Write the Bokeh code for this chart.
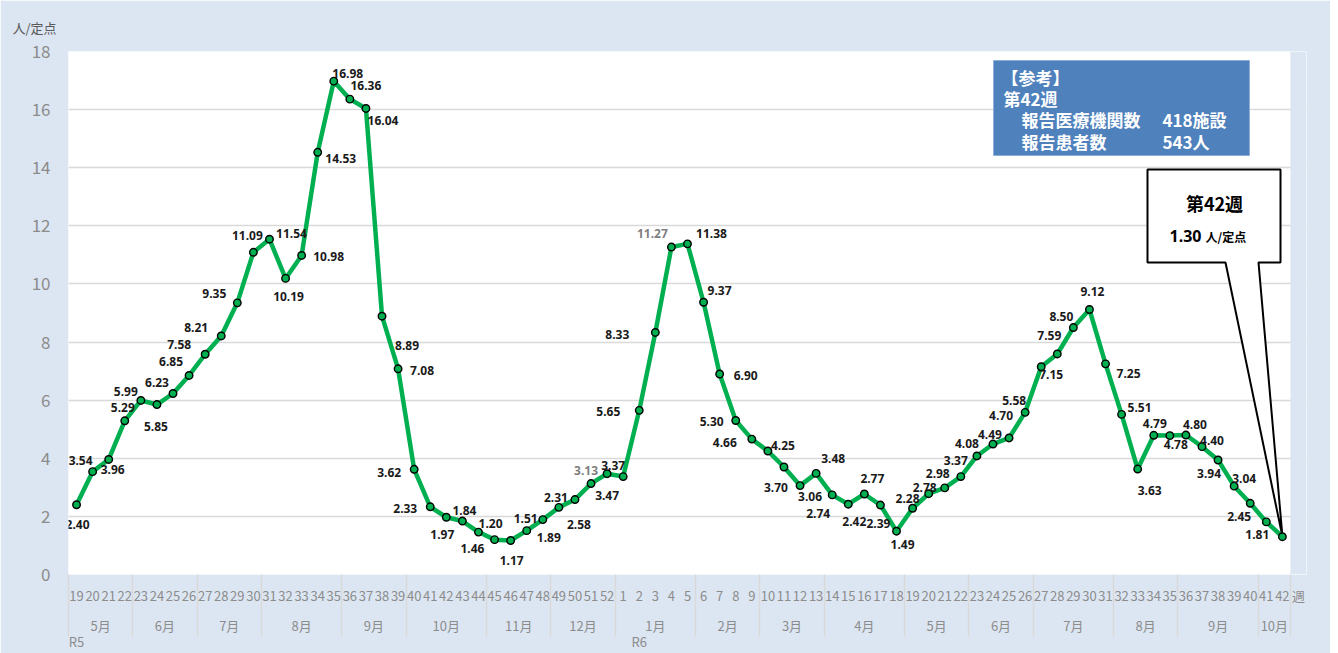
from bokeh.plotting import figure
from bokeh.models import (Range1d, ColumnDataSource, FixedTicker, LinearAxis,
                          Label, BoxAnnotation, PolyAnnotation)
from bokeh.embed import file_html
from bokeh.resources import INLINE
from bokeh.core.properties import value

# ---------------- data ----------------
years = ["R5", "R6"]
months_r5 = ["5月", "6月", "7月", "8月", "9月", "10月", "11月", "12月"]
weeks_by_month_r5 = [
    ["19", "20", "21", "22"], ["23", "24", "25", "26"], ["27", "28", "29", "30"],
    ["31", "32", "33", "34", "35"], ["36", "37", "38", "39"], ["40", "41", "42", "43", "44"],
    ["45", "46", "47", "48"], ["49", "50", "51", "52"],
]
months_r6 = ["1月", "2月", "3月", "4月", "5月", "6月", "7月", "8月", "9月", "10月"]
weeks_by_month_r6 = [
    ["1", "2", "3", "4", "5"], ["6", "7", "8", "9"], ["10", "11", "12", "13"],
    ["14", "15", "16", "17", "18"], ["19", "20", "21", "22"], ["23", "24", "25", "26"],
    ["27", "28", "29", "30", "31"], ["32", "33", "34", "35"], ["36", "37", "38", "39", "40"],
    ["41", "42"],
]
values_r5 = [2.40, 3.54, 3.96, 5.29, 5.99, 5.85, 6.23, 6.85, 7.58, 8.21,
             9.35, 11.09, 11.54, 10.19, 10.98, 14.53, 16.98, 16.36, 16.04, 8.89,
             7.08, 3.62, 2.33, 1.97, 1.84, 1.46, 1.20, 1.17, 1.51, 1.89,
             2.31, 2.58, 3.13, 3.47]
values_r6 = [3.37, 5.65, 8.33, 11.27, 11.38, 9.37, 6.90, 5.30, 4.66, 4.25,
             3.70, 3.06, 3.48, 2.74, 2.42, 2.77, 2.39, 1.49, 2.28, 2.78,
             2.98, 3.37, 4.08, 4.49, 4.70, 5.58, 7.15, 7.59, 8.50, 9.12,
             7.25, 5.51, 3.63, 4.79, 4.78, 4.80, 4.40, 3.94, 3.04, 2.45,
             1.81, 1.30]
y_ticks = [0, 2, 4, 6, 8, 10, 12, 14, 16, 18]
y_unit = "人/定点"
x_unit = "週"
ref_title = "【参考】"
ref_week = "第42週"
ref_rows = [("報告医療機関数", "418施設"), ("報告患者数", "543人")]
call_week = "第42週"
call_value = "1.30"

# ---------------- layout / style helpers (not data) ----------------
lab_dx = [1, -12, 4, -2, -15, -1, -16, -18, -26, -25, -23, -6, 22, 3, 27, 23, 14, 16, 17, 25,
          24, -25, -25, -4, 2, -6, -4, 1, -1, 6, -3, 4, -5, 0, -10, -31, -38, -19, 24, 16,
          26, -24, -27, 15, -8, 10, 17, -14, 6, 8, -2, 6, -5, -4, -7, -5, -10, -3, -8, -11,
          10, -8, -12, 3, 23, 18, 12, 1, 6, 9, 10, -9, 10, -11, -9]
lab_dy = [20, -11, 10, -13, -9, 22, -11, -14, -10, -8, -9, -17, -6, 18, 1, 6, -8, -14, 12, 29,
          2, 3, 2, 17, -11, 16, -16, 20, -12, 18, -10, 25, -13, 22, -11, 1, 2, -14, -10, -12,
          1, 1, 3, -6, 21, 11, -15, 19, 17, -16, 18, 13, -10, -6, -14, -16, -12, -10, -22, -12,
          8, -18, -11, -18, 10, -7, 21, -12, 9, -11, -6, 13, -8, 13, 13]
gray_label_idx = {32, 37}

# category slots: one per week, plus one trailing slot for the unit "週"
week_labels = [w for ws in weeks_by_month_r5 + weeks_by_month_r6 for w in ws]
month_labels = months_r5 + months_r6
month_sizes = [len(ws) for ws in weeks_by_month_r5 + weeks_by_month_r6]
vals = values_r5 + values_r6
n = len(vals)
xs = [i + 0.5 for i in range(n)]

week_ticks = xs + [n + 0.5]
week_over = {t: lab for t, lab in zip(week_ticks, week_labels + [x_unit])}
bounds = [0]
for s in month_sizes:
    bounds.append(bounds[-1] + s)
month_ticks = [(a + b) / 2 for a, b in zip(bounds[:-1], bounds[1:])]
month_over = {t: lab for t, lab in zip(month_ticks, month_labels)}
year_ticks = [0.5, len(values_r5) + 1.5]
year_over = {t: lab for t, lab in zip(year_ticks, years)}

CW = 1222 / n
FW, FH = int(round(CW * (n + 1))), 523
BG = "#dce6f2"
JP = "Noto Sans CJK JP"
GRAY = "#8c8c8c"
SEP = "#d9d9d9"

p = figure(x_range=Range1d(0, n + 1), y_range=Range1d(y_ticks[0], y_ticks[-1]),
           frame_width=FW, frame_height=FH,
           min_border_left=68, min_border_right=24, min_border_top=51, min_border_bottom=0,
           output_backend="svg", toolbar_location=None,
           background_fill_color="white", border_fill_color=BG, outline_line_color=None)

p.title.text = y_unit
p.title.align = "left"
p.title.offset = -56
p.title.standoff = 30
p.title.text_font = JP
p.title.text_font_size = "13px"
p.title.text_font_style = "normal"
p.title.text_color = "#595959"

# y axis
ya = p.yaxis[0]
ya.ticker = FixedTicker(ticks=y_ticks)
ya.axis_line_color = None
ya.major_tick_line_color = None
ya.minor_tick_line_color = None
ya.major_label_text_font = JP
ya.major_label_text_font_size = "17px"
ya.major_label_text_color = GRAY
ya.major_label_standoff = 12
p.ygrid.grid_line_color = SEP
p.ygrid.grid_line_width = 1.5
p.xgrid.grid_line_color = None

def style_x(ax, size="13px"):
    ax.axis_line_color = None
    ax.major_tick_line_color = None
    ax.major_label_text_font = JP
    ax.major_label_text_font_size = size
    ax.major_label_text_color = GRAY

# week row (month separators drawn as long minor ticks)
wa = p.xaxis[0]
style_x(wa)
wa.ticker = FixedTicker(ticks=week_ticks, minor_ticks=bounds)
wa.major_label_overrides = week_over
wa.major_tick_out = 62
wa.major_tick_in = 0
wa.minor_tick_out = 62
wa.minor_tick_in = 0
wa.minor_tick_line_color = SEP
wa.minor_tick_line_width = 1.5
wa.major_label_standoff = -51

# month row
ma = LinearAxis(ticker=FixedTicker(ticks=month_ticks, minor_ticks=[]),
                major_label_overrides=month_over, major_tick_out=0, major_tick_in=0,
                minor_tick_line_color=None, major_label_standoff=8)
style_x(ma)
p.add_layout(ma, "below")

# year row
yra = LinearAxis(ticker=FixedTicker(ticks=year_ticks, minor_ticks=[]),
                 major_label_overrides=year_over, major_tick_out=0, major_tick_in=0,
                 minor_tick_line_color=None, major_label_standoff=-6)
style_x(yra)
p.add_layout(yra, "below")

# light-blue cover over the trailing unit slot (outside the white plot area)
p.add_layout(BoxAnnotation(left=n, right=n + 1, fill_color=BG, fill_alpha=1,
                           line_alpha=0, level="annotation"))

# callout (behind the series)
tip_x = (n - 0.5) * CW
tip_y = vals[-1] / (y_ticks[-1] - y_ticks[0]) * FH
callout = PolyAnnotation(xs=[1079, 1157, tip_x, 1190, 1212, 1212, 1079],
                         ys=[312, 312, tip_y, 312, 312, 405, 405],
                         xs_units="screen", ys_units="screen",
                         fill_color="white", fill_alpha=1, line_color="black", line_alpha=1,
                         line_width=2, level="underlay")
p.add_layout(callout)

info = BoxAnnotation(left=925, right=1181, bottom=419, top=514,
                     left_units="screen", right_units="screen", top_units="screen", bottom_units="screen",
                     fill_color="#4f81bd", fill_alpha=1, line_color="#8fb0d8", line_alpha=1,
                     line_width=1, level="underlay")
p.add_layout(info)

# series
src = ColumnDataSource(dict(x=xs, y=vals))
p.line(x="x", y="y", source=src, line_color="#00b050", line_width=4.5)
p.scatter(x="x", y="y", source=src, size=7.5, fill_color="#00b050", line_color="black", line_width=1.4)

lab = ColumnDataSource(dict(
    x=xs[:-1], y=vals[:-1], text=["%.2f" % v for v in vals[:-1]],
    dx=lab_dx, dy=lab_dy,
    color=["#7f7f7f" if i in gray_label_idx else "#1a1a1a" for i in range(n - 1)]))
p.text(x="x", y="y", text="text", x_offset="dx", y_offset="dy", source=lab,
       text_align="center", text_baseline="middle", text_font=value("Noto Sans"),
       text_font_style="bold", text_font_size="12px", text_color="color")

# texts inside the plot area
def lbl(x, y, t, size, color, bold=False, align="left", font=JP):
    p.add_layout(Label(x=x, y=y, x_units="screen", y_units="screen", text=t,
                       text_font=font, text_font_size=size, text_color=color,
                       text_font_style="bold" if bold else "normal",
                       text_align=align, text_baseline="middle"))

lbl(933, 497, ref_title, "17px", "white", True)
lbl(935, 476, ref_week, "17px", "white", True)
for k, (a, b) in enumerate(ref_rows):
    lbl(953, 455 - 22 * k, a, "17px", "white", True)
    lbl(1094, 455 - 22 * k, b, "17px", "white", True)

lbl(1146, 372, call_week, "18px", "black", True, "center")
lbl(1133, 339, call_value, "16px", "black", True, "right", "Noto Sans")
lbl(1137, 338, y_unit, "12px", "black", True, "left")

open("out.html", "w").write(file_html(p, INLINE))
